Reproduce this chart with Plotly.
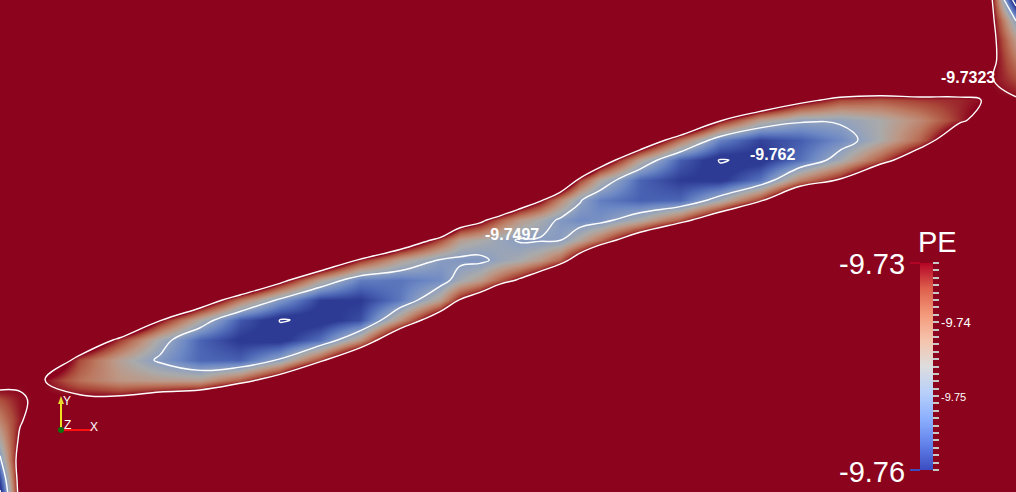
import plotly.graph_objects as go

B = -9.70  # well above the top of the colour range: saturated red
pe_x = [0, 20, 40, 80, 120, 160, 200, 240, 280, 320, 360, 400, 440, 460, 480, 500,
        520, 540, 560, 580, 600, 640, 680, 720, 760, 800, 840, 880, 920, 960, 990, 1016]
pe_y = [0, 20, 40, 60, 80, 100, 120, 140, 160, 180, 200, 220, 240,
        260, 280, 300, 320, 340, 360, 380, 400, 420, 440, 460, 480, 500]

# one list per x column, top (y=0) to bottom (y=500)
pe_columns = [
    [B] * 19 + [-9.7286, -9.7360, -9.7400, -9.7450, -9.7510, -9.7590, -9.7650],
    [B] * 19 + [-9.7319, -9.7326, -9.7331, -9.7309, -9.7276, -9.7276, -9.7287],
    [B] * 18 + [-9.7200, -9.7314, -9.7318, -9.7280, -9.7280, -9.7280, -9.7280, -9.7280],
    [B] * 17 + [-9.7217, -9.7357, -9.7385, -9.7301, -9.7105] + [B] * 4,
    [B] * 16 + [-9.7139, -9.7346, -9.7441, -9.7424, -9.7296, -9.7055] + [B] * 4,
    [B] * 15 + [-9.7053, -9.7316, -9.7468, -9.7507, -9.7434, -9.7249] + [B] * 5,
    [B] * 15 + [-9.7236, -9.7454, -9.7565, -9.7562, -9.7437, -9.7208] + [B] * 5,
    [B] * 14 + [-9.7118, -9.7392, -9.7575, -9.7605, -9.7568, -9.7370, -9.7084] + [B] * 5,
    [B] * 14 + [-9.7286, -9.7510, -9.7621, -9.7612, -9.7490, -9.7258] + [B] * 6,
    [B] * 13 + [-9.7181, -9.7439, -9.7599, -9.7617, -9.7555, -9.7349, -9.7047] + [B] * 6,
    [B] * 12 + [-9.7032, -9.7334, -9.7540, -9.7603, -9.7584, -9.7424, -9.7166] + [B] * 7,
    [B] * 12 + [-9.7219, -9.7437, -9.7548, -9.7545, -9.7421, -9.7191] + [B] * 8,
    [B] * 11 + [-9.7101, -9.7353, -9.7500, -9.7525, -9.7437, -9.7241] + [B] * 9,
    [B] * 11 + [-9.7251, -9.7436, -9.7509, -9.7470, -9.7318, -9.7055] + [B] * 9,
    [B] * 10 + [-9.7031, -9.7300, -9.7457, -9.7510, -9.7434, -9.7255] + [B] * 10,
    [B] * 10 + [-9.7146, -9.7370, -9.7482, -9.7482, -9.7370, -9.7146] + [B] * 10,
    [B] * 10 + [-9.7241, -9.7429, -9.7502, -9.7463, -9.7311, -9.7048] + [B] * 10,
    [B] * 9 + [-9.7048, -9.7311, -9.7463, -9.7502, -9.7429, -9.7244] + [B] * 11,
    [B] * 9 + [-9.7192, -9.7405, -9.7506, -9.7500, -9.7372, -9.7136] + [B] * 11,
    [B] * 8 + [-9.7089, -9.7347, -9.7492, -9.7526, -9.7447, -9.7257] + [B] * 12,
    [B] * 8 + [-9.7249, -9.7450, -9.7540, -9.7518, -9.7383, -9.7137] + [B] * 12,
    [B] * 7 + [-9.7211, -9.7440, -9.7565, -9.7568, -9.7457, -9.7239] + [B] * 13,
    [B] * 6 + [-9.7113, -9.7387, -9.7570, -9.7600, -9.7563, -9.7365, -9.7079] + [B] * 13,
    [B] * 6 + [-9.7311, -9.7537, -9.7622, -9.7608, -9.7468, -9.7227] + [B] * 14,
    [B] * 5 + [-9.7176, -9.7434, -9.7594, -9.7613, -9.7550, -9.7344, -9.7042] + [B] * 14,
    [B] * 5 + [-9.7290, -9.7486, -9.7571, -9.7554, -9.7402, -9.7150] + [B] * 15,
    [B] * 4 + [-9.7123, -9.7354, -9.7488, -9.7527, -9.7469, -9.7315, -9.7066] + [B] * 15,
    [B] * 4 + [-9.7172, -9.7364, -9.7460, -9.7460, -9.7364, -9.7172] + [B] * 16,
    [B] * 4 + [-9.7188, -9.7347, -9.7409, -9.7375, -9.7246, -9.7020] + [B] * 16,
    [B] * 3 + [-9.7049, -9.7241, -9.7337, -9.7337, -9.7241, -9.7049] + [B] * 17,
    [-9.7290, -9.7290, -9.7290, -9.7300, -9.7318, -9.7317, -9.7280] + [B] * 19,
    [-9.7670, -9.7500, -9.7430, -9.7390, -9.7355, -9.7317, -9.7150] + [B] * 19,
]

contour_levels = [-9.7323, -9.7497, -9.762]
contour_labels = ["-9.7323", "-9.7497", "-9.762"]
label_x = [968, 512, 772]
label_y = [77, 234, 154]

pe_min, pe_max = -9.760, -9.732
bar_ticks = [round(-9.760 + 0.001 * i, 3) for i in range(29)]
bar_ticktext = {-9.74: "-9.74", -9.75: "<span style='font-size:11px'>-9.75</span>"}

# rows for plotly: z[row][col]
pe_z = [list(row) for row in zip(*pe_columns)]

cool_warm = [
    (0.0, (59, 76, 192)), (0.125, (98, 130, 234)), (0.25, (141, 176, 254)),
    (0.375, (184, 208, 249)), (0.5, (221, 221, 221)), (0.625, (245, 196, 173)),
    (0.75, (244, 154, 123)), (0.875, (222, 96, 77)), (1.0, (180, 4, 38)),
]
shade = 0.77  # lit surface is darker than the legend
surface_scale = [[p, "rgb(%d,%d,%d)" % tuple(round(c * shade) for c in rgb)] for p, rgb in cool_warm]
legend_scale = [[p, "rgb(%d,%d,%d)" % rgb] for p, rgb in cool_warm]
bg = surface_scale[-1][1]

fig = go.Figure()

fig.add_trace(go.Heatmap(
    x=pe_x, y=pe_y, z=pe_z, zmin=pe_min, zmax=pe_max,
    colorscale=surface_scale, zsmooth="best", showscale=False, hoverinfo="skip",
))

for lv in contour_levels:
    fig.add_trace(go.Contour(
        x=pe_x, y=pe_y, z=pe_z, autocontour=False,
        contours=dict(start=lv, end=lv, size=0.0001, coloring="none"),
        line=dict(color="white", width=1.4, smoothing=1.2),
        showscale=False, hoverinfo="skip",
    ))

# legend only
fig.add_trace(go.Scatter(
    x=[None], y=[None], mode="markers", showlegend=False, hoverinfo="skip",
    marker=dict(
        color=[pe_min], cmin=pe_min, cmax=pe_max, colorscale=legend_scale, showscale=True,
        colorbar=dict(
            x=920 / 1016, xanchor="left", xpad=0,
            y=1 - 470 / 492, yanchor="bottom", ypad=0,
            len=207 / 492, lenmode="fraction", thickness=13, thicknessmode="pixels",
            outlinewidth=0,
            tickmode="array", tickvals=bar_ticks,
            ticktext=[bar_ticktext.get(t, "") for t in bar_ticks],
            ticks="outside", ticklen=6, tickwidth=1.5, tickcolor="#c8c8c8",
            tickfont=dict(family="Liberation Sans", size=13, color="white"),
        ),
    ),
))

for txt, lx, ly in zip(contour_labels, label_x, label_y):
    fig.add_annotation(x=lx, y=ly, text="<b>%s</b>" % txt, showarrow=False,
                       font=dict(family="Liberation Sans", size=16, color="white"))

big = dict(family="Liberation Sans", size=29, color="white")
fig.add_annotation(x=937, y=242, text="PE", showarrow=False, font=big)
fig.add_annotation(x=907, y=264, text="-9.73", showarrow=False, xanchor="right", font=big)
fig.add_annotation(x=907, y=472, text="-9.76", showarrow=False, xanchor="right", font=big)

# range marks beside the bar
fig.add_shape(type="line", x0=910, x1=920, y0=263, y1=263, line=dict(color=legend_scale[-1][1], width=2))
fig.add_shape(type="line", x0=910, x1=920, y0=470, y1=470, line=dict(color=legend_scale[0][1], width=2))

# orientation axes
fig.add_shape(type="line", x0=61, x1=61, y0=430, y1=403, line=dict(color="#f0e020", width=2))
fig.add_shape(type="path", path="M 58 404 L 64 404 L 61 396 Z", fillcolor="#e8d830", line=dict(width=0))
fig.add_shape(type="line", x0=63, x1=92, y0=430, y1=430, line=dict(color="#ff1010", width=2))
fig.add_shape(type="circle", x0=58, x1=64, y0=427, y1=433, fillcolor="#107010", line=dict(width=0))
small = dict(family="Liberation Sans", size=12, color="white")
fig.add_annotation(x=67, y=401, text="Y", showarrow=False, font=small)
fig.add_annotation(x=67, y=425, text="Z", showarrow=False, font=small)
fig.add_annotation(x=94, y=427, text="X", showarrow=False, font=small)

fig.update_xaxes(range=[0, 1016], visible=False, showgrid=False, zeroline=False)
fig.update_yaxes(range=[492, 0], visible=False, showgrid=False, zeroline=False)
fig.update_layout(
    width=1016, height=492, margin=dict(l=0, r=0, t=0, b=0),
    paper_bgcolor=bg, plot_bgcolor=bg, showlegend=False,
)

# page body without its default margin, so the figure fills the window
fig.write_html("out.html", config={"displayModeBar": False},
               post_script="document.body.style.margin='0';"
               "document.body.style.overflow='hidden';")
